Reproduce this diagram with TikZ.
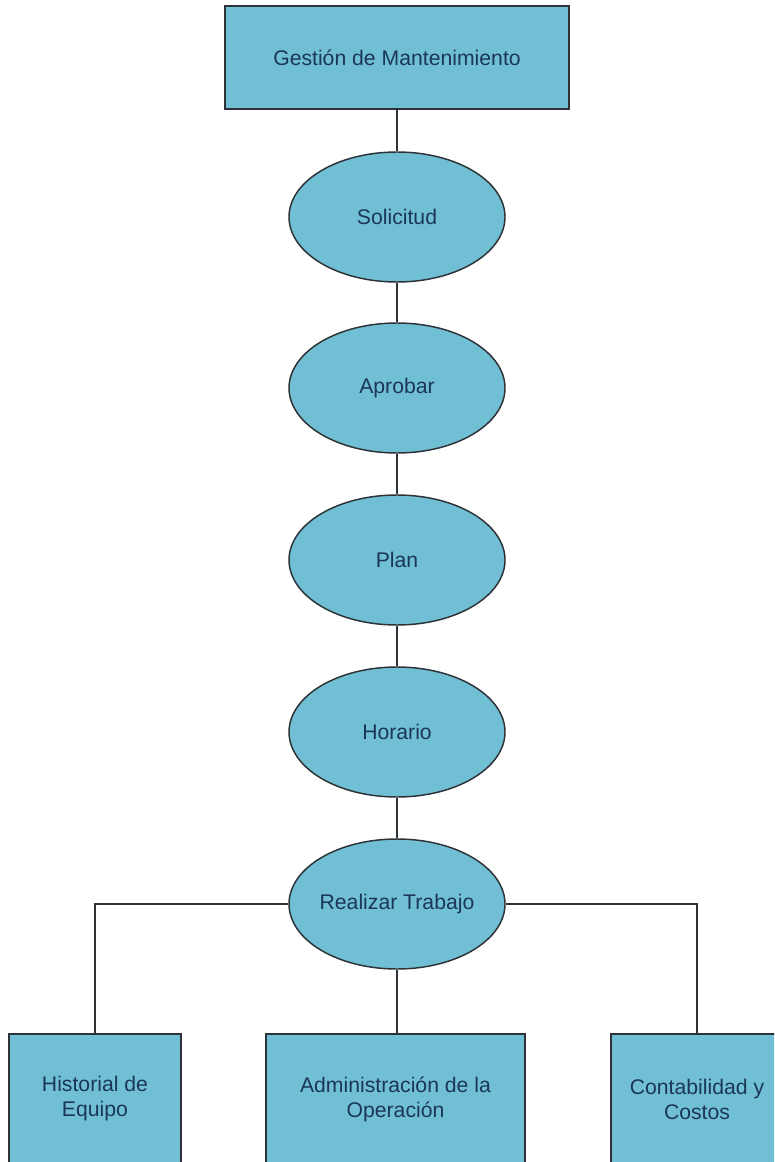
\documentclass[tikz,border=0pt]{standalone}
\usepackage{fontspec}
\setmainfont{Liberation Sans}
\usetikzlibrary{shapes.geometric}
\definecolor{boxfill}{RGB}{112,191,212}
\definecolor{boxline}{RGB}{45,50,55}
\definecolor{boxtext}{RGB}{27,55,85}
\tikzset{
  base/.style={draw=boxline, fill=boxfill, line width=1.1pt, text=boxtext,
    font=\fontsize{15.9}{18.75}\selectfont, align=center, inner sep=0pt},
  rectbox/.style={base, rectangle},
  stage/.style={base, ellipse, inner xsep=-4pt, minimum width=162pt, minimum height=97.5pt},
  link/.style={draw=boxline, line width=1.1pt}
}
\begin{document}
\begin{tikzpicture}[x=0.75pt, y=-0.75pt]
  \useasboundingbox (0,0) rectangle (774,1162);
  \clip (0,0) rectangle (774,1162);
  \fill[white] (0,0) rectangle (774,1162);

  % top box
  \node[rectbox, minimum width=258pt, minimum height=77.25pt] (gm) at (397,57.5) {Gestión de Mantenimiento};

  % workflow stages
  \node[stage] (sol) at (397,217) {Solicitud};
  \node[stage] (apr) at (397,388) {Aprobar};
  \node[stage] (pla) at (397,560) {Plan};
  \node[stage] (hor) at (397,732) {Horario};
  \node[stage] (rea) at (397,904) {Realizar Trabajo};

  % bottom boxes (run past the lower edge)
  \node[rectbox, minimum width=129pt, minimum height=97.5pt] (his) at (95,1099) {Historial de\\Equipo};
  \node[rectbox, minimum width=194.25pt, minimum height=97.5pt] (adm) at (395.5,1099) {Administración de la\\Operación};
  \node[rectbox, minimum width=129pt, minimum height=97.5pt] (con) at (697,1099) {Contabilidad y\\Costos};

  % connectors
  \draw[link] (gm.south) -- (sol.north);
  \draw[link] (sol.south) -- (apr.north);
  \draw[link] (apr.south) -- (pla.north);
  \draw[link] (pla.south) -- (hor.north);
  \draw[link] (hor.south) -- (rea.north);
  \draw[link] (rea.west) -| (his.north);
  \draw[link] (rea.east) -| (con.north);
  \draw[link] (rea.south) -- (rea.south |- adm.north);
\end{tikzpicture}
\end{document}
